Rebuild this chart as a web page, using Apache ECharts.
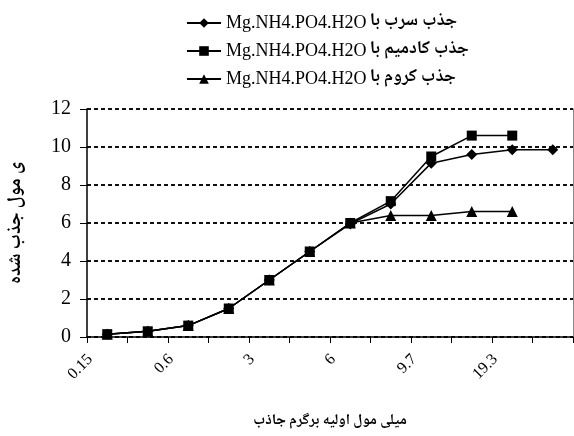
<!DOCTYPE html>
<html>
<head>
<meta charset="utf-8">
<script src="https://cdn.jsdelivr.net/npm/echarts@6/dist/echarts.min.js"></script>
<style>html,body{margin:0;padding:0;background:#fff}#c{width:574px;height:436px}</style>
</head>
<body>
<div id="c"></div>
<script>
const categories = ["0.15", "", "0.6", "", "3", "", "6", "", "9.7", "", "19.3", ""];
const seriesNames = [
  "جذب سرب با",
  "جذب کادمیم با",
  "جذب کروم با"
];
const compound = "Mg.NH4.PO4.H2O";
const lead     = [0.15, 0.3, 0.6, 1.5, 3.0, 4.5, 5.95, 7.0, 9.15, 9.6, 9.85, 9.85];
const cadmium  = [0.15, 0.3, 0.6, 1.5, 3.0, 4.5, 6.0, 7.15, 9.5, 10.6, 10.6, null];
const chromium = [0.15, 0.3, 0.6, 1.5, 3.0, 4.5, 6.0, 6.4, 6.4, 6.6, 6.6, null];
const yTicks = { min: 0, max: 12, interval: 2 };
const xTitle = "میلی مول اولیه برگرم جاذب";
const yTitle = "ی مول جذب شده";

const chart = echarts.init(document.getElementById('c'), null, {renderer: 'canvas'});
const serif = '"Liberation Serif", "DejaVu Serif", serif';
const arab = '"Noto Naskh Arabic", "Noto Sans Arabic", "DejaVu Sans", sans-serif';
const mk = (name, data, symbol, size) => ({
  name: name, type: 'line', data: data, symbol: symbol, symbolSize: size,
  lineStyle: {color: '#000', width: 1.5}, itemStyle: {color: '#000'},
  connectNulls: false, animation: false
});
chart.setOption({
  animation: false,
  backgroundColor: '#fff',
  grid: {left: 84, right: 1, top: 109, bottom: 99, containLabel: false},
  legend: {
    orient: 'vertical', left: 181, top: 9, itemGap: 10, itemWidth: 34, itemHeight: 12,
    formatter: function (n) { return '{a|' + compound + '} {b|' + n + '}'; },
    textStyle: {
      rich: {
        a: {fontFamily: serif, fontSize: 18, color: '#000'},
        b: {fontFamily: arab, fontSize: 18, fontWeight: 'bold', color: '#000'}
      }
    },
    data: seriesNames
  },
  xAxis: {
    type: 'category', data: categories, boundaryGap: true,
    name: xTitle, nameLocation: 'middle', nameGap: 78,
    nameTextStyle: {fontFamily: arab, fontSize: 15, fontWeight: 'bold', color: '#000'},
    axisLine: {lineStyle: {color: '#000', width: 1.5}},
    axisTick: {show: true, inside: false, length: 6, alignWithLabel: false, interval: 0, lineStyle: {color: '#000'}},
    axisLabel: {interval: 0, rotate: 45, margin: 3, padding: [0, 24, 0, 0], fontFamily: serif, fontSize: 16, color: '#000'},
    splitLine: {show: false}
  },
  yAxis: [{
    type: 'value', min: yTicks.min, max: yTicks.max, interval: yTicks.interval,
    name: yTitle, nameLocation: 'middle', nameGap: 60, nameRotate: 90,
    nameTextStyle: {fontFamily: arab, fontSize: 19, fontWeight: 'bold', color: '#000'},
    axisLine: {show: true, lineStyle: {color: '#000', width: 1.5}},
    axisTick: {show: true, length: 7, lineStyle: {color: '#000'}},
    axisLabel: {margin: 16, fontFamily: serif, fontSize: 20, color: '#000'},
    splitLine: {show: true, lineStyle: {color: '#111', width: 2, type: [4, 3]}}
  }, {
    type: 'value', position: 'right', min: yTicks.min, max: yTicks.max, interval: yTicks.interval,
    axisLine: {show: true, lineStyle: {color: '#888', width: 1}},
    axisTick: {show: false}, axisLabel: {show: false}, splitLine: {show: false}
  }],
  series: [
    mk(seriesNames[0], lead, 'diamond', 11),
    mk(seriesNames[1], cadmium, 'rect', 10),
    mk(seriesNames[2], chromium, 'triangle', 11)
  ]
});
</script>
</body>
</html>
